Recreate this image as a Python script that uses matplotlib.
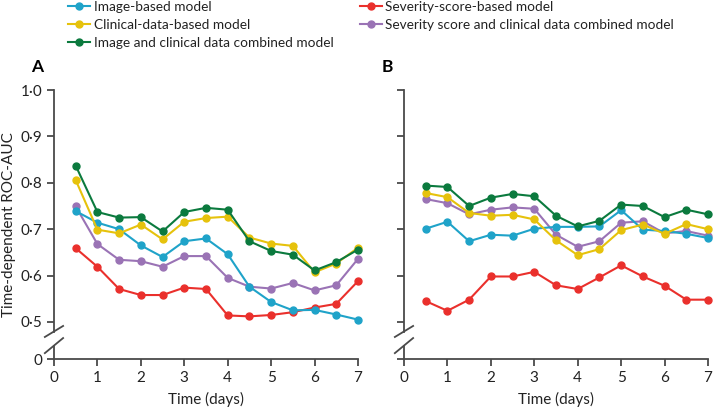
"""Time-dependent ROC-AUC by day for the five models, panels A and B."""

import matplotlib
matplotlib.use("Agg")
import matplotlib.pyplot as plt

plt.rcParams["font.family"] = ["Lato", "DejaVu Sans"]

days = [0.5, 1, 1.5, 2, 2.5, 3, 3.5, 4, 4.5, 5, 5.5, 6, 6.5, 7]

labels = [
    "Image-based model",
    "Clinical-data-based model",
    "Image and clinical data combined model",
    "Severity-score-based model",
    "Severity score and clinical data combined model",
]
colors = ["#1fa3c9", "#e6c20c", "#0b7a3e", "#ea302c", "#9a73b5"]

# panel A
a_image = [0.739, 0.714, 0.700, 0.665, 0.640, 0.674, 0.680, 0.646, 0.576, 0.543, 0.525, 0.526, 0.516, 0.505]
a_clinical = [0.806, 0.699, 0.691, 0.710, 0.678, 0.716, 0.724, 0.727, 0.682, 0.669, 0.664, 0.607, 0.626, 0.660]
a_combined = [0.837, 0.737, 0.725, 0.726, 0.695, 0.737, 0.746, 0.742, 0.674, 0.653, 0.645, 0.611, 0.629, 0.656]
a_severity = [0.659, 0.619, 0.571, 0.558, 0.558, 0.574, 0.571, 0.514, 0.512, 0.515, 0.521, 0.531, 0.539, 0.588]
a_sev_clin = [0.749, 0.668, 0.634, 0.631, 0.619, 0.642, 0.642, 0.595, 0.576, 0.572, 0.584, 0.568, 0.579, 0.636]

# panel B
b_image = [0.701, 0.716, 0.674, 0.688, 0.686, 0.701, 0.705, 0.705, 0.706, 0.741, 0.699, 0.696, 0.690, 0.681]
b_clinical = [0.778, 0.769, 0.735, 0.729, 0.731, 0.721, 0.676, 0.644, 0.657, 0.698, 0.710, 0.690, 0.711, 0.700]
b_combined = [0.794, 0.791, 0.750, 0.768, 0.776, 0.771, 0.729, 0.706, 0.718, 0.753, 0.750, 0.726, 0.742, 0.732]
b_severity = [0.545, 0.524, 0.548, 0.598, 0.598, 0.608, 0.579, 0.571, 0.596, 0.622, 0.598, 0.578, 0.548, 0.548]
b_sev_clin = [0.765, 0.756, 0.732, 0.742, 0.747, 0.744, 0.688, 0.662, 0.674, 0.714, 0.717, 0.691, 0.696, 0.686]

x_ticks = [0, 1, 2, 3, 4, 5, 6, 7]
y_ticks = [0.42, 0.5, 0.6, 0.7, 0.8, 0.9, 1.0]
y_tick_labels = ["0", "0·5", "0·6", "0·7", "0·8", "0·9", "1·0"]
y_bottom = 0.42  # the broken axis puts "0" here

axis_color = "#4a4a4a"
text_color = "#222222"

fig = plt.figure(figsize=(7.13, 4.08), dpi=100)
ax_a = fig.add_axes([0.0757, 0.120, 0.4264, 0.6593])
ax_b = fig.add_axes([0.5666, 0.120, 0.4264, 0.6593])

panels = [
    (ax_a, [a_image, a_clinical, a_combined, a_severity, a_sev_clin], "A"),
    (ax_b, [b_image, b_clinical, b_combined, b_severity, b_sev_clin], "B"),
]

for ax, series, letter in panels:
    # draw order: red under the others, green on top
    for idx in [3, 4, 0, 1, 2]:
        ax.plot(days, series[idx], color=colors[idx], marker="o", markersize=5,
                linewidth=1.5, label=labels[idx], clip_on=False)

    ax.set_xlim(0, 7)
    ax.set_ylim(y_bottom, 1.0)
    ax.set_xticks(x_ticks)
    ax.set_yticks(y_ticks)
    if letter == "A":
        ax.set_yticklabels(y_tick_labels)
        ax.set_ylabel("Time-dependent ROC-AUC", fontsize=11, color=text_color, labelpad=3)
    else:
        ax.set_yticklabels([])
    ax.set_xlabel("Time (days)", fontsize=11, color=text_color, labelpad=5)

    for side in ("top", "right"):
        ax.spines[side].set_visible(False)
    for side in ("left", "bottom"):
        ax.spines[side].set_color(axis_color)
        ax.spines[side].set_linewidth(1.3)
    # gap in the left spine for the break marks
    ax.spines["left"].set_bounds(0.478, 1.0)
    ax.plot([0, 0], [y_bottom, 0.449], color=axis_color, linewidth=1.3,
            transform=ax.get_yaxis_transform(), clip_on=False)
    trans = ax.transAxes
    for y0, y1 in [(0.082, 0.123), (0.022, 0.078)]:
        ax.plot([-0.03, 0.03], [y0, y1], color=axis_color, linewidth=1.3,
                transform=trans, clip_on=False)

    ax.tick_params(axis="both", direction="out", length=5, width=1.3,
                   color=axis_color, labelsize=11, labelcolor=text_color)
    ax.text(-0.075, 1.066, letter, transform=trans,
            fontsize=12.5, fontweight="bold", ha="left", va="baseline")

handles, leg_labels = ax_a.get_legend_handles_labels()
by_label = dict(zip(leg_labels, handles))
legend_style = dict(loc="upper left", frameon=False, fontsize=9.8, handlelength=1.6,
                    handletextpad=0.25, labelspacing=0.42, borderpad=0,
                    borderaxespad=0)
col1 = labels[:3]
col2 = labels[3:]
leg1 = fig.legend([by_label[l] for l in col1], col1,
                  bbox_to_anchor=(0.096, 0.997), **legend_style)
for t in leg1.get_texts():
    t.set_color(text_color)
leg2 = fig.legend([by_label[l] for l in col2], col2,
                  bbox_to_anchor=(0.505, 0.997), **legend_style)
for t in leg2.get_texts():
    t.set_color(text_color)

fig.savefig("out.png", dpi=100)
